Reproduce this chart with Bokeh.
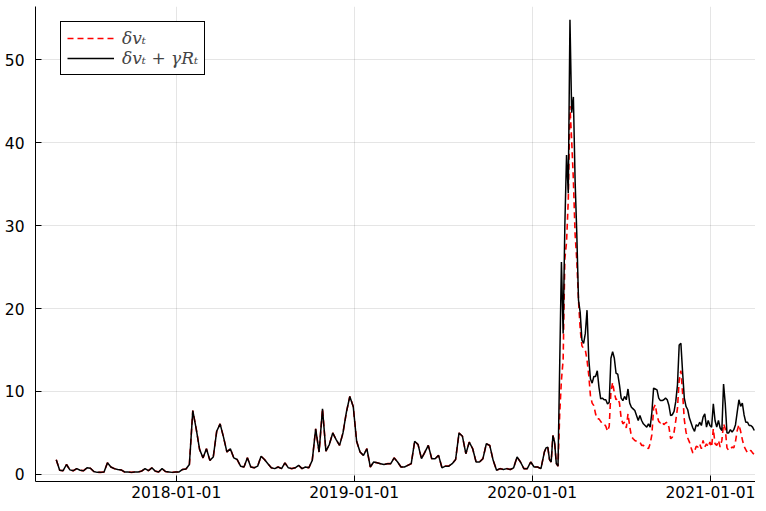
import numpy as np
import pandas as pd
from bokeh.plotting import figure
from bokeh.models import ColumnDataSource, FixedTicker, DatetimeTickFormatter, Range1d
from bokeh.embed import file_html
from bokeh.resources import INLINE

# ---- data ----
# weekly values from 2017-04-30 (both series identical in this period)
weekly_start = "2017-04-30"
weekly_values = [
    1.77, 0.5, 0.45, 1.2, 0.55, 0.45, 0.7, 0.5, 0.45, 0.8,
    0.75, 0.35, 0.25, 0.25, 0.3, 1.4, 0.9, 0.7, 0.6, 0.55,
    0.3, 0.3, 0.25, 0.3, 0.3, 0.4, 0.7, 0.45, 0.8, 0.4,
    0.3, 0.7, 0.35, 0.3, 0.25, 0.3, 0.3, 0.6, 0.65, 1.2,
    7.7, 5.5, 3.0, 2.0, 3.1, 1.7, 2.1, 5.2, 6.1, 4.5,
    2.7, 3.1, 2.0, 1.8, 1.0, 0.9, 2.0, 0.9, 0.8, 1.0,
    2.2, 1.8, 1.3, 0.8, 0.7, 0.9, 0.7, 1.4, 0.8, 0.7,
    0.8, 1.1, 0.7, 0.9, 0.8, 1.7, 5.5, 2.7, 7.9, 2.8,
    3.6, 5.0, 4.2, 3.5, 5.0, 7.5, 9.4, 8.2, 4.0, 2.7,
    2.3, 3.1, 0.9, 1.5, 1.4, 1.3, 1.2, 1.3, 1.3, 2.0,
    1.5, 0.9, 0.9, 1.1, 1.3, 4.0, 3.6, 1.9, 2.7, 3.5,
    1.9, 1.9, 2.3, 0.8, 1.0, 1.0, 1.3, 1.8, 5.0, 4.6,
    2.5, 3.9, 3.1, 1.5, 1.5, 1.9, 3.7, 3.5, 1.7, 0.5,
    0.7, 0.6, 0.7, 0.6, 0.8, 2.1, 1.5, 0.7, 0.7, 1.5,
    0.9, 0.9, 0.7, 2.7,
]

# half-weekly values from 2020-01-29 12:00
halfweekly_start = "2020-01-29 12:00"
dv_tail = [
    3.2, 3.3, 1.8, 1.5, 4.7, 3.9, 1.3, 1.0, 7.3, 11.4,
    13.8, 26.0, 28.0, 33.0, 44.4, 40.3, 35.5, 29.0, 25.8, 21.0,
    17.5, 15.5, 15.2, 15.0, 13.8, 12.0, 9.5, 8.6, 8.3, 7.3,
    6.7, 6.7, 6.4, 6.1, 6.1, 5.8, 5.2, 5.8, 10.0, 11.1,
    9.8, 9.0, 9.2, 8.6, 6.8, 6.1, 6.3, 5.6, 7.3, 5.8,
    4.6, 4.3, 4.1, 4.0, 3.9, 3.9, 3.5, 3.5, 3.3, 3.3,
    3.1, 3.7, 4.8, 8.0, 8.4, 7.1, 6.4, 6.2, 6.4, 6.0,
    6.2, 6.3, 5.7, 4.3, 4.5, 5.1, 6.5, 8.0, 11.4, 12.5,
    9.8, 6.6, 5.1, 4.4, 3.9, 3.2, 2.6, 2.8, 3.4, 3.3,
    3.7, 3.1, 4.1, 3.3, 3.7, 3.3, 3.9, 3.3, 5.5, 3.7,
    3.5, 4.1, 3.3, 4.1, 6.1, 5.5, 3.2, 2.9, 3.1, 3.3,
    3.2, 4.0, 5.3, 6.0, 5.2, 4.2, 3.4, 3.0, 2.6, 2.8,
    2.9, 2.6, 2.4,
]
dvg_tail = [
    3.2, 3.3, 1.8, 1.5, 4.7, 3.9, 1.3, 1.0, 13.4, 25.6,
    17.0, 30.0, 38.5, 33.9, 54.8, 43.6, 45.5, 35.5, 29.0, 21.0,
    19.5, 16.2, 15.8, 17.0, 19.8, 14.0, 11.5, 11.0, 11.8, 11.8,
    12.5, 10.5, 9.1, 9.2, 9.0, 9.0, 8.5, 8.7, 14.0, 14.8,
    14.0, 12.2, 12.1, 10.8, 9.2, 8.9, 9.4, 9.0, 10.3, 8.6,
    8.1, 7.9, 7.7, 7.1, 6.5, 7.1, 6.5, 6.1, 5.9, 5.7,
    6.1, 5.7, 7.5, 10.4, 10.3, 10.2, 9.2, 8.9, 8.9, 9.0,
    9.2, 9.0, 8.3, 7.1, 7.2, 7.6, 8.8, 10.8, 15.6, 15.8,
    12.3, 9.2, 8.2, 7.8, 6.8, 6.2, 5.6, 5.2, 6.0, 5.8,
    6.3, 5.9, 6.9, 7.3, 5.7, 6.5, 5.9, 5.7, 8.5, 6.5,
    5.7, 6.5, 5.6, 5.3, 10.9, 8.5, 5.0, 5.0, 5.4, 5.1,
    5.4, 6.0, 7.5, 9.0, 8.2, 8.6, 7.2, 6.3, 6.3, 5.9,
    5.9, 5.7, 5.3,
]

x_tick_dates = ["2018-01-01", "2019-01-01", "2020-01-01", "2021-01-01"]
y_tick_values = [0, 10, 20, 30, 40, 50]
series_labels = ["δvₜ", "δvₜ + γRₜ"]

# ---- build ----
dates = np.concatenate([
    pd.date_range(weekly_start, periods=len(weekly_values), freq="7D").values,
    pd.date_range(halfweekly_start, periods=len(dv_tail), freq="84h").values,
])
dv = list(weekly_values) + list(dv_tail)
dvg = list(weekly_values) + list(dvg_tail)

src = ColumnDataSource(data=dict(date=dates, dv=dv, dvg=dvg))

p = figure(
    width=755, height=500,
    x_axis_type="datetime",
    output_backend="svg",
    toolbar_location=None,
    x_range=Range1d(pd.Timestamp("2017-03-18 10:00"), pd.Timestamp("2021-04-03")),
    y_range=Range1d(-0.85, 56.4),
    min_border_left=35, min_border_right=0, min_border_top=6, min_border_bottom=0,
)
p.outline_line_color = None
p.background_fill_color = "white"

p.line("date", "dv", source=src, line_color="#ff0000", line_width=1.6,
       line_dash="6 4", legend_label=series_labels[0])
p.line("date", "dvg", source=src, line_color="#000000", line_width=1.5,
       legend_label=series_labels[1])

tick_ms = [pd.Timestamp(d).value / 1e6 for d in x_tick_dates]
p.xaxis.ticker = FixedTicker(ticks=tick_ms)
fmt = "%Y-%m-%d"
p.xaxis.formatter = DatetimeTickFormatter(
    milliseconds=fmt, seconds=fmt, minsec=fmt, minutes=fmt, hourmin=fmt,
    hours=fmt, days=fmt, months=fmt, years=fmt)
p.yaxis.ticker = FixedTicker(ticks=y_tick_values)

for ax in (p.xaxis, p.yaxis):
    ax.axis_line_color = "black"
    ax.axis_line_width = 1
    ax.major_tick_line_color = "black"
    ax.major_tick_in = 6
    ax.major_tick_out = 0
    ax.minor_tick_line_color = None
    ax.major_label_text_font = "DejaVu Sans"
    ax.major_label_text_font_size = "15.5px"
    ax.major_label_text_color = "black"
p.yaxis.major_label_standoff = 11
p.xaxis.major_label_standoff = 4

p.grid.grid_line_color = "black"
p.grid.grid_line_alpha = 0.1
p.grid.grid_line_width = 1

leg = p.legend[0]
leg.border_line_color = "black"
leg.border_line_width = 1
leg.border_line_alpha = 1
leg.background_fill_color = "white"
leg.background_fill_alpha = 1
leg.padding = 6
leg.spacing = 0
leg.margin = 0
leg.glyph_width = 47
leg.glyph_height = 16
leg.label_height = 16
leg.label_standoff = 8
leg.label_text_font = "DejaVu Serif"
leg.label_text_font_style = "italic"
leg.label_text_font_size = "17px"
leg.location = (25, 406)

open("out.html", "w").write(file_html(p, INLINE))
